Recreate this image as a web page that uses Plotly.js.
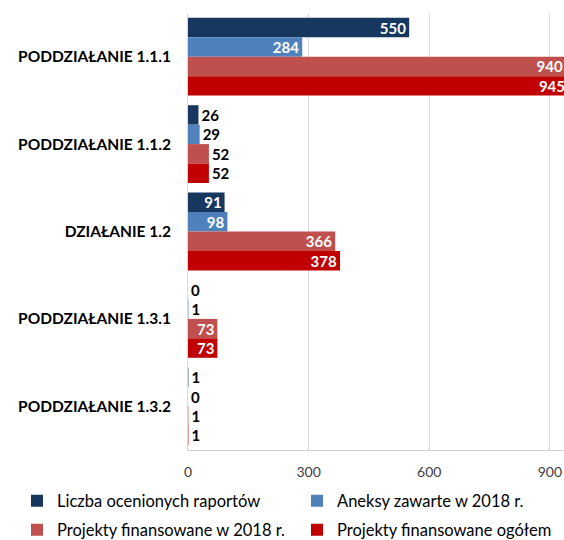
<!DOCTYPE html>
<html>
<head>
<meta charset="utf-8">
<script src="https://cdn.plot.ly/plotly-3.0.1.min.js"></script>
<style>html,body{margin:0;padding:0;background:#fff;}#chart{width:564px;height:540px;}</style>
</head>
<body>
<div id="chart"></div>
<script>
const categories = ["PODDZIAŁANIE 1.1.1", "PODDZIAŁANIE 1.1.2", "DZIAŁANIE 1.2", "PODDZIAŁANIE 1.3.1", "PODDZIAŁANIE 1.3.2"];
const seriesNames = ["Liczba ocenionych raportów", "Aneksy zawarte w 2018 r.", "Projekty finansowane w 2018 r.", "Projekty finansowane ogółem"];
const liczbaRaportow = [550, 26, 91, 0, 1];
const aneksy2018 = [284, 29, 98, 1, 0];
const projekty2018 = [940, 52, 366, 73, 1];
const projektyOgolem = [945, 52, 378, 73, 1];
const tickValues = [0, 300, 600, 900];

const colors = ["#17375E", "#4F81BD", "#C0504D", "#C00000"];
const values = [liczbaRaportow, aneksy2018, projekty2018, projektyOgolem];
const legendIds = ["legend", "legend2", "legend3", "legend4"];
const FONT = "Lato, 'Open Sans', sans-serif";
const INSIDE_MIN = 60; // labels go inside bars long enough to hold them

const traces = values.map((v, i) => ({
  type: "bar",
  orientation: "h",
  name: seriesNames[i],
  legend: legendIds[i],
  y: categories,
  x: v,
  text: v.map(String),
  textposition: v.map(d => (d >= INSIDE_MIN ? "inside" : "outside")),
  insidetextanchor: "end",
  insidetextfont: {family: FONT, size: 15, color: "#ffffff", weight: "bold"},
  outsidetextfont: {family: FONT, size: 15, color: "#000000", weight: "bold"},
  textangle: 0,
  constraintext: "none",
  cliponaxis: true,
  marker: {color: colors[i], line: {width: 0}},
  hoverinfo: "skip"
}));

function legendAt(xPx, yPx) {
  return {
    orientation: "h",
    xref: "container",
    yref: "container",
    x: xPx / 564,
    y: 1 - yPx / 540,
    xanchor: "left",
    yanchor: "middle",
    bgcolor: "rgba(0,0,0,0)",
    borderwidth: 0,
    itemclick: false,
    font: {family: FONT, size: 16.5, color: "#000"}
  };
}

const layout = {
  width: 564,
  height: 540,
  margin: {l: 188, r: 0, t: 13, b: 90},
  paper_bgcolor: "#ffffff",
  plot_bgcolor: "#ffffff",
  barmode: "group",
  bargap: 0.11,
  bargroupgap: 0,
  font: {family: FONT, size: 14, color: "#000"},
  showlegend: true,
  xaxis: {
    range: [0, 935],
    tickvals: tickValues,
    ticktext: tickValues.map(String),
    showgrid: true,
    gridcolor: "#D9D9D9",
    gridwidth: 1,
    zeroline: false,
    showline: true,
    linecolor: "#D0D0D0",
    linewidth: 1,
    ticks: "",
    ticklabelstandoff: 9,
    tickfont: {family: FONT, size: 14, color: "#404040"},
    fixedrange: true
  },
  yaxis: {
    type: "category",
    autorange: "reversed",
    showgrid: false,
    zeroline: false,
    showline: true,
    linecolor: "#D9D9D9",
    linewidth: 1,
    ticks: "",
    ticklabelstandoff: 13,
    tickfont: {family: FONT, size: 15.5, color: "#000", weight: "bold"},
    fixedrange: true
  },
  legend: legendAt(17, 501),
  legend2: legendAt(297, 501),
  legend3: legendAt(17, 530),
  legend4: legendAt(297, 530)
};

Plotly.newPlot("chart", traces, layout, {staticPlot: true, displayModeBar: false});
</script>
</body>
</html>
